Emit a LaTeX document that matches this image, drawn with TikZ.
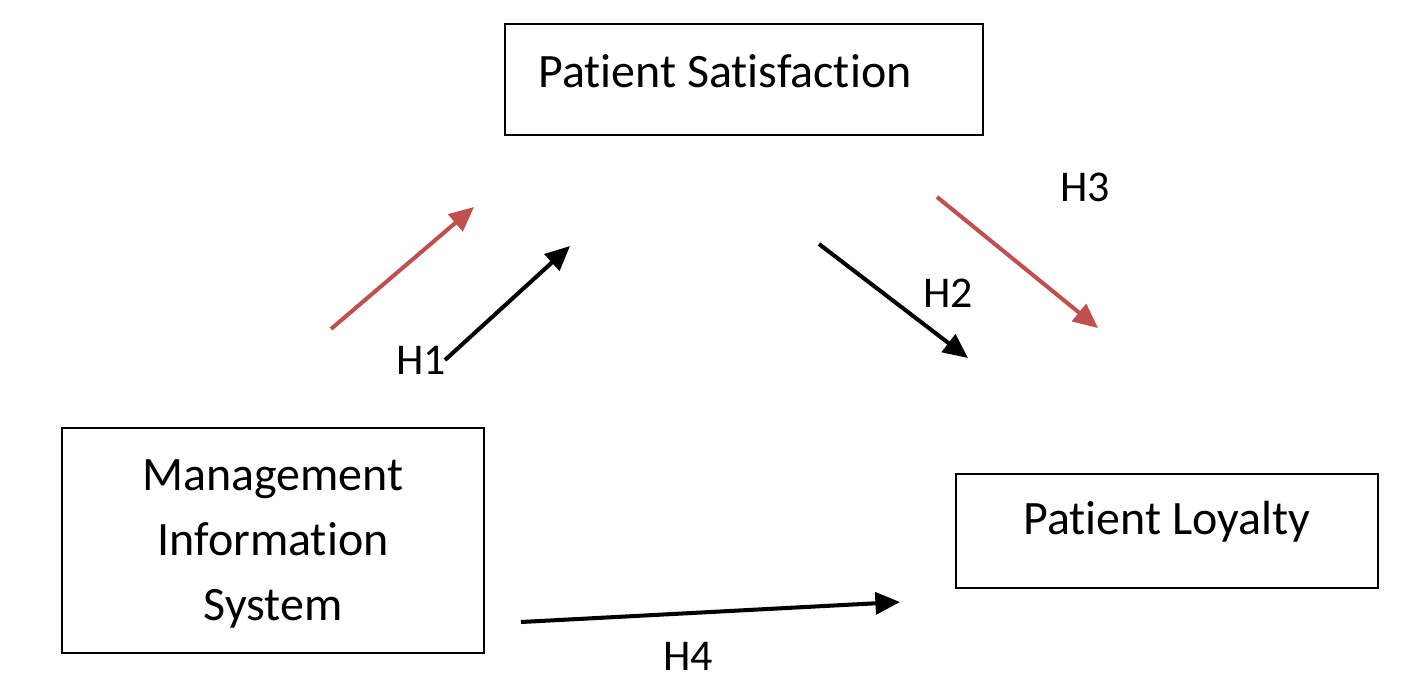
\documentclass[tikz,border=0pt]{standalone}
\usepackage{fontspec}
\setmainfont{Carlito}[Ligatures=NoCommon]
\usepackage{xcolor}
\usetikzlibrary{arrows.meta}
\definecolor{hypRed}{HTML}{C0504D}
\tikzstyle{varBox} = [draw, rectangle, line width=1pt, inner sep=0pt]
\tikzstyle{hypArrow} = [line width=2.3pt, -{Triangle[length=14pt, width=12.5pt]}]
\tikzstyle{hypLabel} = [inner sep=0pt, font=\fontsize{25}{30}\selectfont]

\begin{document}
\begin{tikzpicture}[x=0.02cm, y=-0.02cm, font=\fontsize{27.3}{37}\selectfont]
  \useasboundingbox (0,0) rectangle (1403,691);
  \node[varBox, minimum width=478*0.02cm, minimum height=111*0.02cm] (ps) at (744,79.5) {};
  \node[anchor=west] (pst) at (532,71) {Patient Satisfaction};
  \node[varBox, minimum width=422*0.02cm, minimum height=225*0.02cm] (mis) at (273,540.5) {};
  \node[align=center] (mist) at (273,543.5) {Management\\Information\\System};
  \node[varBox, minimum width=422*0.02cm, minimum height=114*0.02cm] (pl) at (1167,531) {};
  \node (plt) at (1167,522) {Patient Loyalty};
  % arrow ends
  \coordinate (r1a) at (331,329);
  \coordinate (r1b) at (474,207);
  \coordinate (h1a) at (445,360);
  \coordinate (h1b) at (570,246);
  \coordinate (h2a) at (819,244);
  \coordinate (h2b) at (968,358);
  \coordinate (h3a) at (937,197);
  \coordinate (h3b) at (1098,328);
  \coordinate (h4a) at (521,622);
  \coordinate (h4b) at (900,602);
  % labels
  \node[hypLabel] (l1) at (421,360) {H1};
  \node[hypLabel] (l2) at (948,293) {H2};
  \node[hypLabel] (l3) at (1085,187) {H3};
  \node[hypLabel] (l4) at (688,656) {H4};

  \draw[hypArrow, hypRed] (r1a) -- (r1b);
  \draw[hypArrow] (h1a) -- (h1b);
  \draw[hypArrow] (h2a) -- (h2b);
  \draw[hypArrow, hypRed] (h3a) -- (h3b);
  \draw[hypArrow] (h4a) -- (h4b);
\end{tikzpicture}
\end{document}
